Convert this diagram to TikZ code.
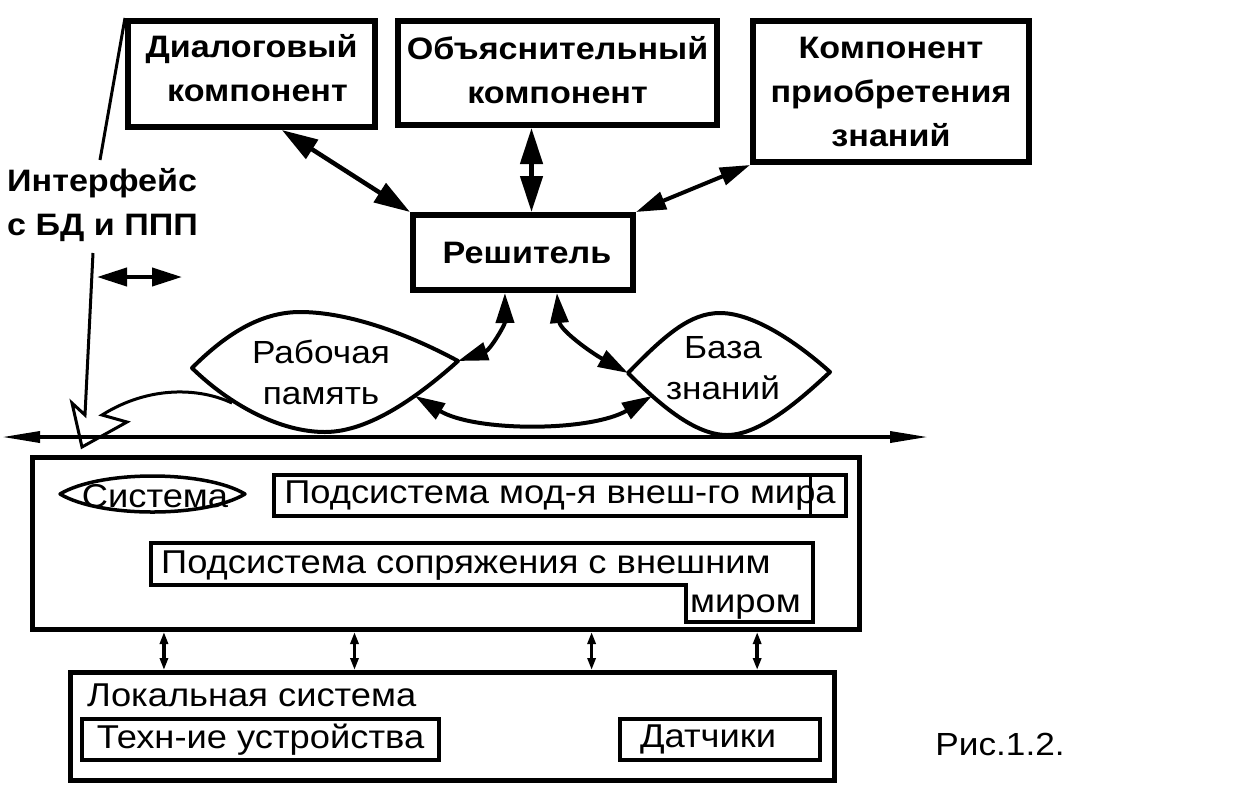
\documentclass[tikz,border=0pt]{standalone}
\usepackage{fontspec}
\setmainfont[FakeStretch=1.1]{Liberation Sans}
\usetikzlibrary{arrows.meta,calc}
\begin{document}
\begin{tikzpicture}[x=1pt,y=-1pt,
  tf/.style={font=\fontsize{31}{44}\selectfont\bfseries},
  lf/.style={font=\fontsize{33}{42}\selectfont},
  ef/.style={font=\fontsize{32}{41}\selectfont},
  bigbox/.style={draw, line width=6pt, inner sep=0pt, align=center, tf},
  inbox/.style={draw, line width=4pt, inner sep=0pt, lf},
  outbox/.style={draw, line width=5pt, inner sep=0pt},
  lensline/.style={line width=4pt, line join=round},
  bigarr/.style={line width=4.5pt, {Triangle[length=36pt,width=22pt]}-{Triangle[length=36pt,width=22pt]}},
  midarr/.style={line width=4pt, {Triangle[length=30pt,width=18pt]}-{Triangle[length=30pt,width=18pt]}},
  smallarr/.style={line width=3.5pt, {Triangle[length=12pt,width=8pt]}-{Triangle[length=12pt,width=8pt]}},
  hline/.style={line width=3.5pt, {Triangle[length=38pt,width=11pt]}-{Triangle[length=38pt,width=11pt]}},
  thinl/.style={line width=3pt, line join=miter}
]
\useasboundingbox (0,0) rectangle (1252,788);

% top boxes
\node[bigbox, minimum width=247pt, minimum height=106pt,
  label={[tf, align=center, inner sep=0pt, yshift=6pt]center:{Диалоговый\\\hspace*{12pt}компонент}}] (dlg) at (251.5,74) {};
\node[bigbox, minimum width=319pt, minimum height=104pt,
  label={[tf, align=center, inner sep=0pt, yshift=3pt]center:{Объяснительный\\компонент}}] (exp) at (557.5,73) {};
\node[bigbox, minimum width=276pt, minimum height=141pt] (acq) at (891,91.5) {Компонент\\приобретения\\знаний};
\node[bigbox, minimum width=220pt, minimum height=75pt] (rs) at (523,252.5) {\hspace*{8pt}Решитель};

% interface label
\node[tf, anchor=west, align=left, inner sep=0pt] (intf) at (7,205) {Интерфейс\\с БД и ППП};

% lenses
\draw[lensline] (192,368) .. controls (225,335) and (260,312) .. (300,312)
  .. controls (350,312) and (410,335) .. (458,361)
  .. controls (420,395) and (370,432) .. (325,432)
  .. controls (280,432) and (230,405) .. cycle;
\node[ef, align=center, inner sep=0pt] (wmt) at (321,372) {Рабочая\\память};
\draw[lensline] (628,373) .. controls (665,335) and (690,313) .. (720,313)
  .. controls (755,313) and (800,345) .. (830,372)
  .. controls (800,400) and (760,435) .. (727,435)
  .. controls (695,435) and (660,405) .. cycle;
\node[ef, align=center, inner sep=0pt] (kbt) at (723,368) {База\\знаний};
\coordinate (wmR) at (458,361);
\coordinate (wmB) at (415,396);
\coordinate (kbL) at (628,373);
\coordinate (kbB) at (652,396);

% connectors among top part
\coordinate (d1) at ($(dlg.south west)!0.62!(dlg.south east)$);
\draw[bigarr] (d1) -- (rs.north west);
\coordinate (e1) at ($(exp.south west)!0.42!(exp.south east)$);
\draw[bigarr] (e1) -- (e1 |- rs.north);
\draw[midarr] (acq.south west) -- (rs.north east);
\coordinate (r1) at ($(rs.south west)!0.42!(rs.south east)$);
\coordinate (r2) at ($(rs.south west)!0.65!(rs.south east)$);
\draw[midarr] (r1) .. controls (505,325) and (490,350) .. (wmR);
\draw[midarr] (r2) .. controls (560,330) and (590,352) .. (kbL);
\draw[midarr] (wmB) .. controls (475,432) and (590,432) .. (kbB);

% small double arrow
\coordinate (s1) at (97,277);
\coordinate (s2) at (182,277);
\draw[midarr] (s1) -- (s2);

% interface lines
\coordinate (i1) at (100,160);
\draw[thinl] (dlg.north west) -- (i1);
\coordinate (i2) at (93,253);
\draw[thinl] (i2) -- (85,415) -- (72,403) -- (82,447) -- (127,422) -- (102,415)
  .. controls (150,385) and (200,388) .. (232,403);

% horizontal bus
\coordinate (hl) at (2,437);
\coordinate (hr) at (928,437);
\draw[hline] (hl) -- (hr);

% system box
\node[outbox, minimum width=827pt, minimum height=172pt] (sys) at (446,543.5) {};
\draw[lensline, line width=3.5pt] (60,494) .. controls (100,470) and (205,470) .. (245,494)
  .. controls (205,518) and (100,518) .. cycle;
\node[lf, inner sep=0pt] (syst) at (155,496) {Система};
\node[inbox, minimum width=572pt, minimum height=41pt] (pm) at (560,495.5) {Подсистема мод-я внеш-го мира};
\draw[line width=3pt] ($(pm.north west)!0.935!(pm.north east)$) -- ($(pm.south west)!0.935!(pm.south east)$);
\draw[line width=4pt, line join=miter] (151,543) -- (813,543) -- (813,622) -- (686,622) -- (686,585) -- (151,585) -- cycle;
\node[lf, anchor=west, inner sep=0pt] (ps1) at (161,566) {Подсистема сопряжения с внешним};
\node[lf, anchor=west, inner sep=0pt] (ps2) at (690,607) {миром};

% local system
\node[outbox, minimum width=764pt, minimum height=108pt] (loc) at (452.5,726.5) {};
\node[lf, anchor=west, inner sep=0pt] (loct) at (87,695) {Локальная система};
\node[inbox, minimum width=357pt, minimum height=41pt] (tech) at (260.5,739.5) {Техн-ие устройства};
\node[inbox, minimum width=200pt, minimum height=41pt] (dat) at (720,739.5) {Датчики\hspace*{24pt}};

% vertical links
\path (sys.south west) -- (sys.south east)
  coordinate[pos=0.161] (v1) coordinate[pos=0.390] (v2)
  coordinate[pos=0.675] (v3) coordinate[pos=0.874] (v4);
\foreach \v in {v1,v2,v3,v4} \draw[smallarr] (\v) -- (\v |- loc.north);

% caption
\node[ef, inner sep=0pt] (cap) at (1000,744) {Рис.1.2.};
\end{tikzpicture}
\end{document}
